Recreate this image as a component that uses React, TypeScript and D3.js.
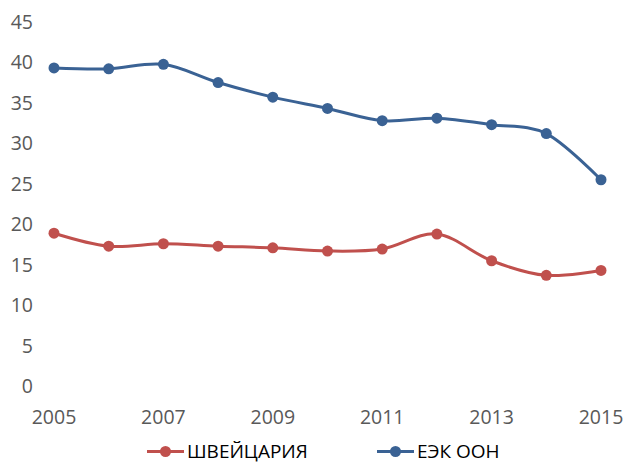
import React from "react";
import * as d3 from "d3";

const years = [2005, 2006, 2007, 2008, 2009, 2010, 2011, 2012, 2013, 2014, 2015];
const swiss = [18.8, 17.2, 17.5, 17.2, 17.0, 16.6, 16.85, 18.7, 15.4, 13.6, 14.2];
const unece = [39.2, 39.1, 39.65, 37.4, 35.6, 34.2, 32.7, 33.0, 32.2, 31.1, 25.4];
const yTicks = [0, 5, 10, 15, 20, 25, 30, 35, 40, 45];
const xTicks = [2005, 2007, 2009, 2011, 2013, 2015];
const seriesNames = ["ШВЕЙЦАРИЯ", "ЕЭК ООН"];
const seriesColors = ["#C0504D", "#3A6294"];

export default function App() {
  const W = 626, H = 462;
  const x = d3.scaleLinear().domain([2005, 2015]).range([54, 601]);
  const y = d3.scaleLinear().domain([0, 45]).range([385.5, 21]);
  const line = d3
    .line<number>()
    .x((_, i) => x(years[i]))
    .y((d) => y(d))
    .curve(d3.curveCardinal.tension(0));
  const series = [swiss, unece];
  const font = "'Open Sans', sans-serif";
  const legendItems = [
    { lx: 147, tx: 187 },
    { lx: 377, tx: 417 },
  ];
  return (
    <svg
      width={W}
      height={H}
      style={{ position: "absolute", left: 0, top: 0, background: "#fff" }}
      fontFamily={font}
    >
      {yTicks.map((t) => (
        <text
          key={t}
          x={33}
          y={y(t)}
          textAnchor="end"
          dominantBaseline="central"
          fontSize={19.5}
          fill="#595959"
        >
          {t}
        </text>
      ))}
      {xTicks.map((t) => (
        <text
          key={t}
          x={x(t)}
          y={416}
          textAnchor="middle"
          dominantBaseline="central"
          fontSize={19.5}
          fill="#595959"
        >
          {t}
        </text>
      ))}
      {series.map((s, si) => (
        <g key={si}>
          <path d={line(s) || ""} fill="none" stroke={seriesColors[si]} strokeWidth={3} />
          {s.map((v, i) => (
            <circle key={i} cx={x(years[i])} cy={y(v)} r={5.5} fill={seriesColors[si]} />
          ))}
        </g>
      ))}
      {legendItems.map((li, i) => (
        <g key={i}>
          <line
            x1={li.lx}
            x2={li.lx + 37}
            y1={451.5}
            y2={451.5}
            stroke={seriesColors[i]}
            strokeWidth={3}
          />
          <circle cx={li.lx + 18.5} cy={451.5} r={5.5} fill={seriesColors[i]} />
          <text x={li.tx} y={457.5} fontSize={19} fill="#000">
            {seriesNames[i]}
          </text>
        </g>
      ))}
    </svg>
  );
}
